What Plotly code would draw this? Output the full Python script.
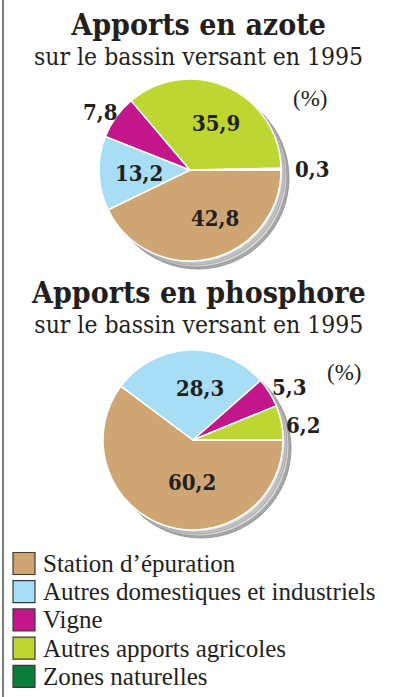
import plotly.graph_objects as go

# Categories (legend order) and their shares in percent
categories = [
    "Station d\u2019épuration",
    "Autres domestiques et industriels",
    "Vigne",
    "Autres apports agricoles",
    "Zones naturelles",
]
azote = [42.8, 13.2, 7.8, 35.9, 0.3]
phosphore = [60.2, 28.3, 5.3, 6.2, 0.0]

colors = ["#CFA574", "#A8DDF6", "#C4168B", "#BDD632", "#0B7D3B"]

W, H = 397, 697
TEXT = "#231F20"
BOLD = "DejaVu Serif Condensed, DejaVu Serif"
REG = "Liberation Serif"


def px(x):
    return x / W


def py(y):
    return 1 - y / H


# pie geometry in pixels: (centre x, centre y, radius)
PIES = [(190, 170, 91), (193, 440, 90)]

# label anchor points in pixels for each category, per pie (None = no label)
LABEL_POS = [
    [(215, 218), (139, 173), (100, 112), (216, 123), (312, 169)],
    [(192, 482), (200, 388), (289, 387), (303, 425), None],
]

fig = go.Figure()
shapes = []
annotations = []

for (cx, cy, r), values, lpos in zip(PIES, [azote, phosphore], LABEL_POS):
    # soft stacked shadow below and to the right of the disc
    for k, (fill, edge) in enumerate([
        ("#a8a8a8", "#8a8a8a"),
        ("#d6d6d6", "#969696"),
        ("#c4c4c4", "#a0a0a0"),
        ("#e0e0e0", "#a8a8a8"),
    ]):
        off = 8 - 2 * k
        shapes.append(dict(
            type="circle", xref="paper", yref="paper", layer="below",
            x0=px(cx - r + off), x1=px(cx + r + off),
            y0=py(cy + r + off), y1=py(cy - r + off),
            fillcolor=fill, line=dict(color=edge, width=0.8),
        ))

    keep = [i for i, v in enumerate(values) if v > 0]
    fig.add_trace(go.Pie(
        labels=[categories[i] for i in keep],
        values=[values[i] for i in keep],
        marker=dict(colors=[colors[i] for i in keep],
                    line=dict(color="white", width=1.5)),
        sort=False,
        direction="clockwise",
        rotation=90,
        textinfo="none",
        hoverinfo="label+value",
        showlegend=False,
        domain=dict(x=[px(cx - r), px(cx + r)], y=[py(cy + r), py(cy - r)]),
    ))

    for i in keep:
        if lpos[i] is None:
            continue
        lx, ly = lpos[i]
        annotations.append(dict(
            x=px(lx), y=py(ly), xref="paper", yref="paper",
            text=f"{values[i]:.1f}".replace(".", ","), showarrow=False,
            font=dict(family=BOLD, size=22, color=TEXT, weight="bold"),
            xanchor="center", yanchor="middle",
        ))

# titles: bold heading with a regular subtitle line underneath
SUB = "sur le bassin versant en 1995"
for title, ty, pct in [
    ("Apports en azote", 39, (310, 98)),
    ("Apports en phosphore", 307, (344, 372)),
]:
    text = (
        f"<span style='font-size:30px;font-weight:bold'>{title}</span><br>"
        f"<span style='font-size:24.5px;font-weight:normal'>{SUB}</span>"
    )
    annotations.append(dict(
        x=0.5, y=py(ty), xref="paper", yref="paper", text=text,
        showarrow=False, xanchor="center", yanchor="middle", align="center",
        font=dict(family=BOLD, size=23.1, color=TEXT),
    ))
    annotations.append(dict(
        x=px(pct[0]), y=py(pct[1]), xref="paper", yref="paper", text="(%)",
        showarrow=False, xanchor="center", yanchor="middle",
        font=dict(family=REG, size=23, color=TEXT),
    ))

# legend: coloured boxes with names
LEG_X0, LEG_Y0, LEG_STEP, BOX = 13, 563.5, 28.2, 22
for i, (name, col) in enumerate(zip(categories, colors)):
    yc = LEG_Y0 + i * LEG_STEP
    shapes.append(dict(
        type="rect", xref="paper", yref="paper",
        x0=px(LEG_X0), x1=px(LEG_X0 + BOX),
        y0=py(yc + BOX / 2), y1=py(yc - BOX / 2),
        fillcolor=col, line=dict(color="#3a3a3a", width=1.2),
    ))
    annotations.append(dict(
        x=px(41), y=py(yc), xref="paper", yref="paper", text=name,
        showarrow=False, xanchor="left", yanchor="middle",
        font=dict(family=REG, size=25, color=TEXT),
    ))

# left frame rule
shapes.append(dict(
    type="line", xref="paper", yref="paper",
    x0=px(3), x1=px(3), y0=0, y1=1,
    line=dict(color="#222", width=1.2),
))

fig.update_layout(
    width=W, height=H,
    margin=dict(l=0, r=0, t=0, b=0),
    paper_bgcolor="white",
    plot_bgcolor="white",
    shapes=shapes,
    annotations=annotations,
)

fig.write_html("out.html")
